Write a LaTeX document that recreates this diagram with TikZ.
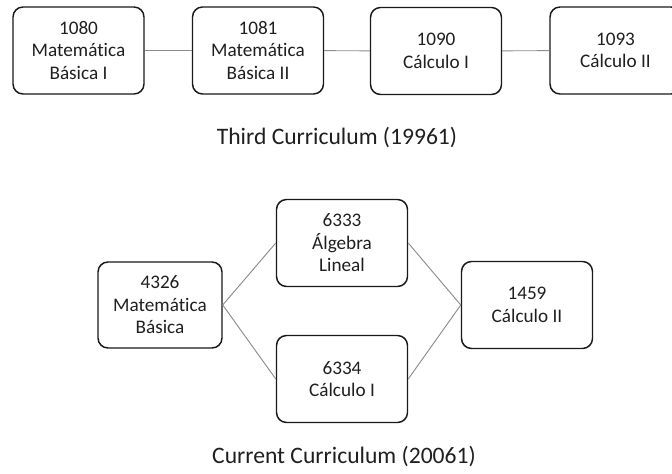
\documentclass[tikz,border=0pt]{standalone}
\usepackage{fontspec}
\setmainfont{Carlito}[Ligatures=NoCommon]
\begin{document}
\begin{tikzpicture}[x=0.75pt,y=-0.75pt,
  course/.style={draw=black!90, line width=1.1pt, rounded corners=7.5pt,
    align=center, text=black!88, inner sep=0pt,
    font=\fontsize{14.4}{16.9}\selectfont},
  wide/.style={minimum width=98.25pt, minimum height=65.25pt},
  narrow/.style={minimum width=93pt, minimum height=64.5pt},
  link/.style={draw=black!45, line width=0.7pt},
  caption/.style={text=black!88, font=\fontsize{17.7}{21}\selectfont}]
\useasboundingbox (0,0) rectangle (672,474);
\clip (0,0) rectangle (672,474);

% third curriculum: a chain of four courses
\node[course, wide] (m1) at (78.5,50.5) {1080\\Matemática\\Básica I};
\node[course, wide] (m2) at (258,50.5) {1081\\Matemática\\Básica II};
\node[course, wide] (c1) at (436,51) {1090\\Cálculo I};
\node[course, wide] (c2) at (615.5,50.5) {1093\\Cálculo II};
\draw[link] (m1) -- (m2);
\draw[link] (m2) -- (c1);
\draw[link] (c1) -- (c2);
\node[caption] (t1) at (337,138) {Third Curriculum (19961)};

% current curriculum: two parallel branches
\node[course, narrow] (mb) at (160,305) {4326\\Matemática\\Básica};
\node[course, wide] (al) at (342,243) {6333\\Álgebra\\Lineal};
\node[course, wide] (ci) at (342,379) {6334\\Cálculo I};
\node[course, wide] (cii) at (527,305) {1459\\Cálculo II};
\draw[link] (mb.east) -- (al.west);
\draw[link] (mb.east) -- (ci.west);
\draw[link] (al.east) -- (cii.west);
\draw[link] (ci.east) -- (cii.west);
\node[caption] (t2) at (344,457) {Current Curriculum (20061)};
\end{tikzpicture}
\end{document}
